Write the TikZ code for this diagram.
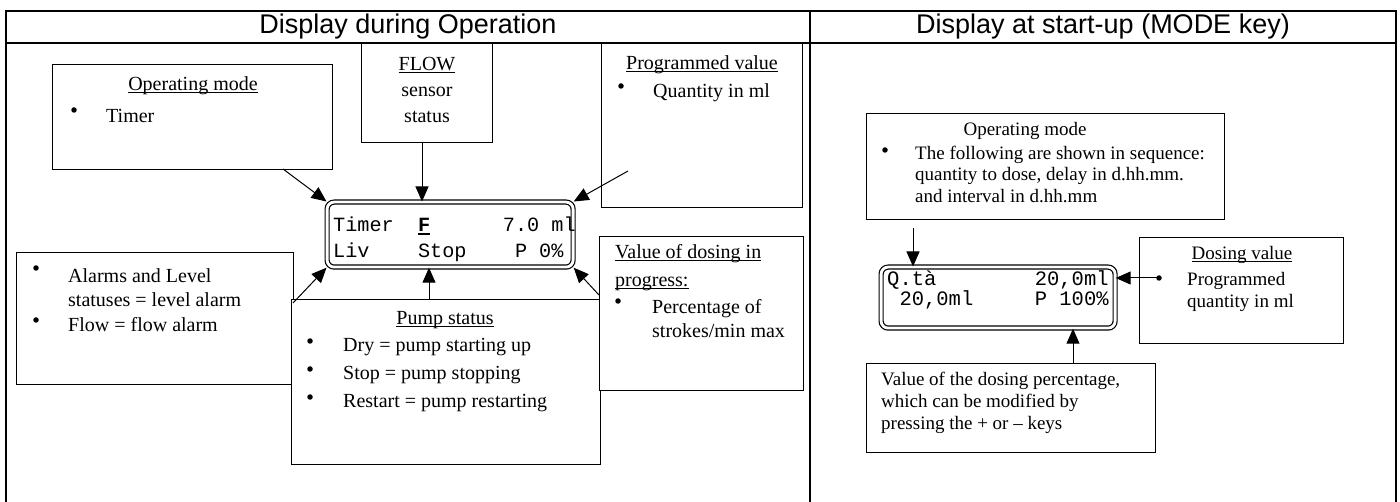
\documentclass[tikz,border=0pt]{standalone}
\usepackage{fontspec}
\setmainfont{Liberation Serif}
\newfontfamily\arialf{Liberation Sans}
\newfontfamily\courf{Liberation Mono}
\usetikzlibrary{arrows.meta}
\newcommand\uln[1]{\setbox0\hbox{#1}\rlap{\rule[-2.6pt]{\wd0}{1.1pt}}\box0}
\newcommand\ulb[1]{\setbox0\hbox{#1}\rlap{\rule[-4.2pt]{\wd0}{2.2pt}}\box0}
\newcommand\lsp[1]{\hspace*{#1\fontcharwd\font`0}}
\begin{document}
\begin{tikzpicture}[x=1pt,y=-1pt,
  frm/.style={line width=2pt},
  box/.style={draw=black, line width=1.2pt, fill=white, inner sep=0pt, anchor=north west},
  lcd/.style={draw=black, line width=1.2pt, double=white, double distance=2.8pt, rounded corners=7pt, inner sep=0pt, anchor=north west},
  lab/.style={inner sep=0pt, font=\fontsize{20}{24}\selectfont},
  labr/.style={inner sep=0pt, font=\fontsize{19}{22}\selectfont},
  lcdt/.style={inner sep=0pt, font=\courf\fontsize{20.2}{24}\selectfont},
  ttl/.style={inner sep=0pt, font=\arialf\fontsize{27}{30}\selectfont},
  bul/.style={circle, fill=black, inner sep=0pt, minimum size=5.5pt},
  arr/.style={-{Triangle[length=15pt,width=13pt]}, line width=1pt}]
\useasboundingbox (0,0) rectangle (1400,502);
% frame
\draw[frm] (6,502) -- (6,11) -- (1396,11) -- (1396,502);
\draw[frm] (6,43) -- (1396,43);
\draw[frm] (810,11) -- (810,502);
\node[ttl] (tL) at (408,27) {Display during Operation};
\node[ttl] (tR) at (1103,27) {Display at start-up (MODE key)};
% left boxes
\node[box, minimum width=280pt, minimum height=105pt] (opL) at (52,64) {};
\node[box, minimum width=131pt, minimum height=99pt] (flow) at (361,43) {};
\node[box, minimum width=201pt, minimum height=164pt] (prog) at (601,43) {};
\node[box, minimum width=277pt, minimum height=132pt] (alarm) at (16,252) {};
\node[box, minimum width=309pt, minimum height=165pt] (pump) at (291,299) {};
\node[box, minimum width=204pt, minimum height=154pt] (val) at (599,236) {};
\node[lcd, minimum width=246pt, minimum height=65pt] (lcdL) at (326.5,201.5) {};
% right boxes
\node[box, minimum width=358pt, minimum height=106pt] (opR) at (866,113) {};
\node[box, minimum width=204pt, minimum height=106pt] (dose) at (1139,237) {};
\node[box, minimum width=289pt, minimum height=89pt] (pct) at (866,363) {};
\node[lcd, minimum width=234pt, minimum height=61pt] (lcdR) at (880.5,266.5) {};
% left texts
\node[lab, anchor=mid] (om1) at (193,88) {\uln{Operating mode}};
\node[bul] (omb) at (74,110) {};
\node[lab, anchor=mid west] (om2) at (106,120) {Timer};
\node[lab, anchor=mid] (fl1) at (427,68) {\uln{FLOW}};
\node[lab, anchor=mid] (fl2) at (427,94) {sensor};
\node[lab, anchor=mid] (fl3) at (427,120) {status};
\node[lab, anchor=mid] (pv1) at (702,67) {\uln{Programmed value}};
\node[bul] (pvb) at (621,86) {};
\node[lab, anchor=mid west] (pv2) at (653,95) {Quantity in ml};
\node[bul] (alb1) at (36,268) {};
\node[lab, anchor=mid west] (al1) at (68,280) {Alarms and Level};
\node[lab, anchor=mid west] (al2) at (68,304) {statuses = level alarm};
\node[bul] (alb2) at (36,320) {};
\node[lab, anchor=mid west] (al3) at (68,329) {Flow = flow alarm};
\node[lab, anchor=mid] (ps0) at (445,322) {\uln{Pump status}};
\node[bul] (psb1) at (310,341) {};
\node[lab, anchor=mid west] (ps1) at (343,349) {Dry = pump starting up};
\node[bul] (psb2) at (310,369) {};
\node[lab, anchor=mid west] (ps2) at (343,377) {Stop = pump stopping};
\node[bul] (psb3) at (310,397) {};
\node[lab, anchor=mid west] (ps3) at (343,405) {Restart = pump restarting};
\node[lab, anchor=mid west] (vd1) at (615,256) {\uln{Value of dosing in}};
\node[lab, anchor=mid west] (vd2) at (615,284) {\uln{progress:}};
\node[bul] (vdb) at (618,301) {};
\node[lab, anchor=mid west] (vd3) at (652,311) {Percentage of};
\node[lab, anchor=mid west] (vd4) at (652,335) {strokes/min max};
\node[lcdt, anchor=mid west] (lr1) at (333,229) {Timer\lsp{2}{\bfseries\ulb{F}}\lsp{6}7.0\lsp{1}ml};
\node[lcdt, anchor=mid west] (lr2) at (333,255) {Liv\lsp{4}Stop\lsp{4}P\lsp{1}0\%};
% right texts
\node[labr, anchor=mid] (or0) at (1025,133) {Operating mode};
\node[bul] (orb) at (885,150) {};
\node[labr, anchor=mid west] (or1) at (915,157) {The following are shown in sequence:};
\node[labr, anchor=mid west] (or2) at (915,178) {quantity to dose, delay in d.hh.mm.};
\node[labr, anchor=mid west] (or3) at (915,200) {and interval in d.hh.mm};
\node[labr, anchor=mid] (dv0) at (1242,257) {\uln{Dosing value}};
\node[labr, anchor=mid west] (dv1) at (1187,283) {Programmed};
\node[labr, anchor=mid west] (dv2) at (1187,305) {quantity in ml};
\node[bul] (dvb) at (1159,278) {};
\node[labr, anchor=mid west] (pc1) at (881,383) {Value of the dosing percentage,};
\node[labr, anchor=mid west] (pc2) at (881,405) {which can be modified by};
\node[labr, anchor=mid west] (pc3) at (881,427) {pressing the + or -- keys};
\node[lcdt, font=\courf\fontsize{20.5}{24}\selectfont, anchor=mid west] (rr1) at (887,283) {Q.tà\lsp{8}20,0ml};
\node[lcdt, font=\courf\fontsize{20.5}{24}\selectfont, anchor=mid west] (rr2) at (887,303) {\lsp{1}20,0ml\lsp{5}P\lsp{1}100\%};
% connectors
\coordinate (oA) at (283,169);
\coordinate (fA) at (422,142);
\coordinate (pA) at (628,171);
\coordinate (aA) at (293,303);
\coordinate (uA) at (429,299);
\coordinate (vA) at (599,295);
\draw[arr] (oA) -- (lcdL.north west);
\draw[arr] (fA) -- (fA |- lcdL.north);
\draw[arr] (pA) -- (lcdL.north east);
\draw[arr] (aA) -- (lcdL.south west);
\draw[arr] (uA) -- (uA |- lcdL.south);
\draw[arr] (vA) -- (lcdL.south east);
\coordinate (rA) at (913,228);
\coordinate (cA) at (1073,363);
\draw[arr] (rA) -- (rA |- lcdR.north);
\draw[arr] (dvb.center) -- (dvb.center -| lcdR.east);
\draw[arr] (cA) -- (cA |- lcdR.south);
\end{tikzpicture}
\end{document}
